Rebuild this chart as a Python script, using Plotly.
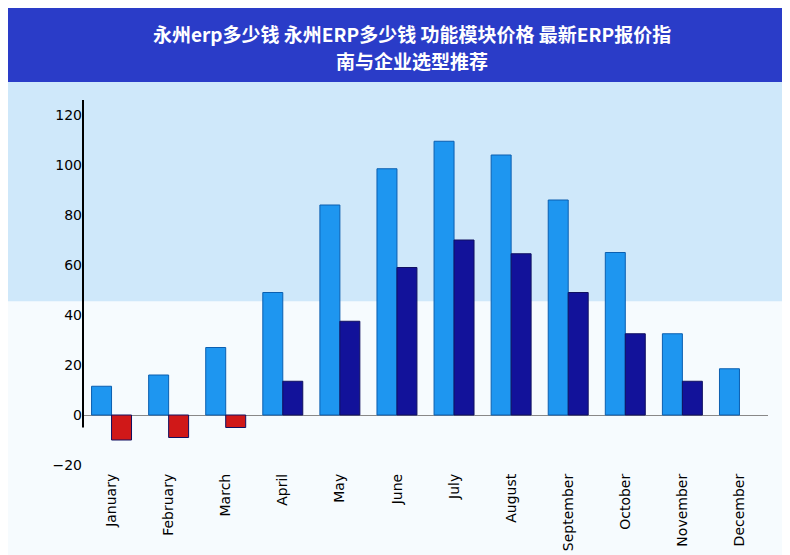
import plotly.graph_objects as go

months = ["January", "February", "March", "April", "May", "June", "July",
          "August", "September", "October", "November", "December"]
series_a = [11.5, 16, 27, 49, 84, 98.5, 109.5, 104, 86, 65, 32.5, 18.5]
series_b = [-10, -9, -5, 13.5, 37.5, 59, 70, 64.5, 49, 32.5, 13.5, None]

title_lines = ["永州erp多少钱 永州ERP多少钱 功能模块价格 最新ERP报价指", "南与企业选型推荐"]

# bars below zero red-ish, above zero navy
colors_b = ["#d01818" if (v is not None and v < 0) else "#12129a" for v in series_b]

fig = go.Figure()
fig.add_trace(go.Bar(x=months, y=series_a, name="A",
                     marker=dict(color="#1e96f0", line=dict(color="#0b5fb0", width=1))))
fig.add_trace(go.Bar(x=months, y=series_b, name="B",
                     marker=dict(color=colors_b, line=dict(color="#101060", width=1))))

for i, line in enumerate(title_lines):
    fig.add_annotation(text="<b>" + line + "</b>", xref="paper", yref="paper",
                       x=0.48, y=1.165 - i * 0.072, xanchor="center", yanchor="middle",
                       showarrow=False, font=dict(size=19, color="white", family="Noto Sans CJK SC"))

fig.update_layout(
    width=790, height=555,
    barmode="group", bargap=0.3, bargroupgap=0.0,
    showlegend=False,
    paper_bgcolor="white",
    plot_bgcolor="rgba(0,0,0,0)",
    margin=dict(l=75, r=30, t=87, b=80),
    font=dict(family="DejaVu Sans", size=14, color="black"),
    xaxis=dict(tickangle=-90, showgrid=False, zeroline=False, ticks=""),
    yaxis=dict(range=[-22, 128], dtick=20, showgrid=False, zeroline=True,
               zerolinecolor="#888888", zerolinewidth=1, showline=False, ticks=""),
    shapes=[
        dict(type="rect", xref="paper", yref="paper", x0=-0.2, x1=1.1, y0=-0.5, y1=1.05,
             fillcolor="#cfe8fa", line=dict(width=0), layer="below"),
        dict(type="rect", xref="paper", yref="paper", x0=-0.2, x1=1.1, y0=-0.5, y1=0.45,
             fillcolor="white", opacity=0.8, line=dict(width=0), layer="below"),
        dict(type="rect", xref="paper", yref="paper", x0=-0.2, x1=1.1, y0=1.035, y1=1.4,
             fillcolor="#2a3cc8", line=dict(width=0), layer="below"),
        dict(type="line", xref="x domain", yref="y", x0=0, x1=0, y0=-5, y1=126,
             line=dict(color="black", width=2)),
    ],
)

fig.write_html("out.html")
